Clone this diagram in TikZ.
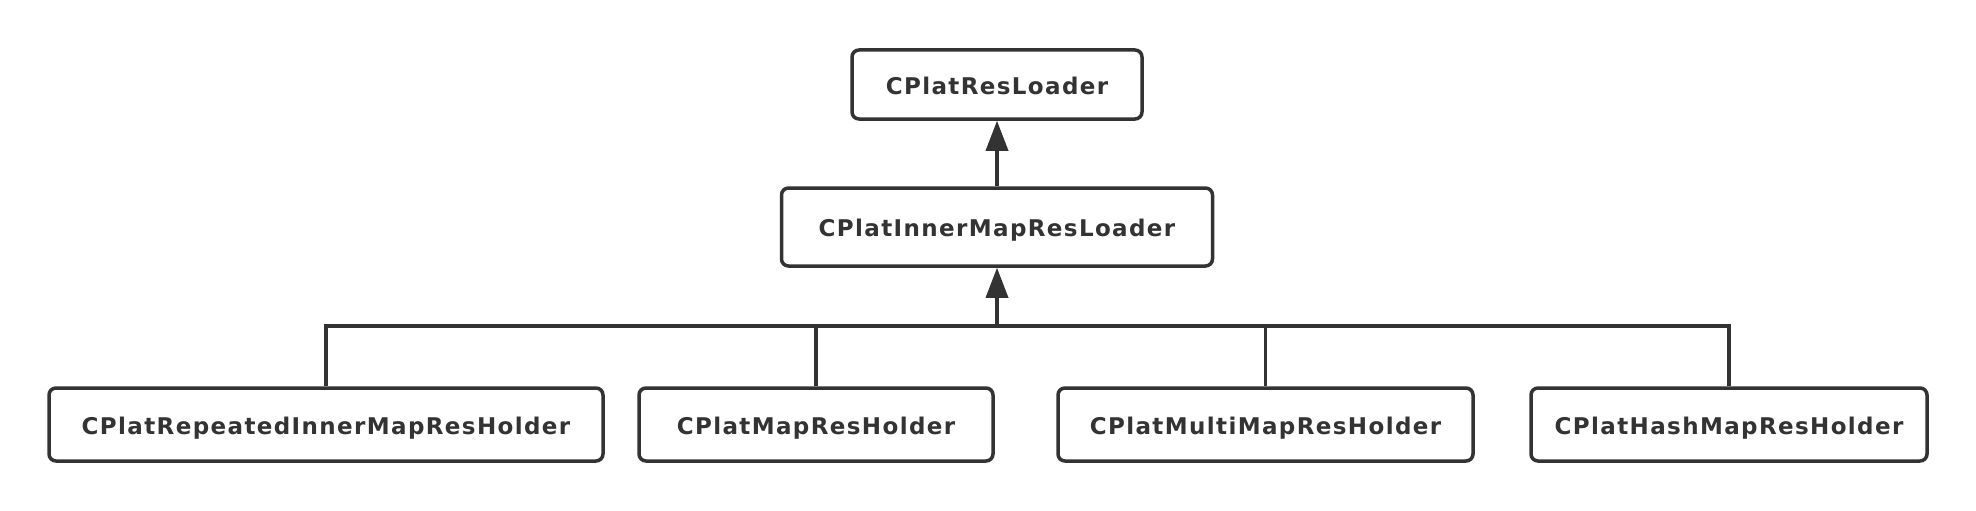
\documentclass[tikz,border=0pt]{standalone}
\usepackage{fontspec}
\setmainfont{DejaVu Sans}
\newfontfamily\clsfont[LetterSpace=6]{DejaVu Sans}
\usetikzlibrary{arrows.meta}
\definecolor{ink}{HTML}{333333}
\begin{document}
\begin{tikzpicture}[x=1pt,y=-1pt,
  cls/.style={draw=ink,line width=3.5pt,rounded corners=7pt,fill=white,
    text=ink,font=\clsfont\fontsize{23}{27}\selectfont\bfseries,inner sep=0pt,
    text height=19pt,text depth=0pt,minimum height=73pt},
  link/.style={draw=ink,line width=3.5pt},
  inh/.style={link,-{Triangle[length=30pt,width=22pt]}}]
\useasboundingbox (0,0) rectangle (1976,511);
\node[cls,minimum width=290pt,minimum height=69pt] (top) at (997,84.5) {CPlatResLoader};
\node[cls,minimum width=431pt,minimum height=78pt] (inner) at (997,227) {CPlatInnerMapResLoader};
\node[cls,minimum width=554pt] (b1) at (326,424.5) {CPlatRepeatedInnerMapResHolder};
\node[cls,minimum width=354pt] (b2) at (816,424.5) {CPlatMapResHolder};
\node[cls,minimum width=415pt] (b3) at (1265.5,424.5) {CPlatMultiMapResHolder};
\node[cls,minimum width=396pt] (b4) at (1729,424.5) {CPlatHashMapResHolder};
\coordinate (bus) at (inner.south |- 0,326);
\draw[inh] (inner.north) -- (top.south);
\draw[link] (b1.north) -- (b1.north |- bus) -- (b4.north |- bus) -- (b4.north);
\draw[link] (b2.north) -- (b2.north |- bus);
\draw[link] (b3.north) -- (b3.north |- bus);
\draw[inh] (bus) -- (inner.south);
\end{tikzpicture}
\end{document}
